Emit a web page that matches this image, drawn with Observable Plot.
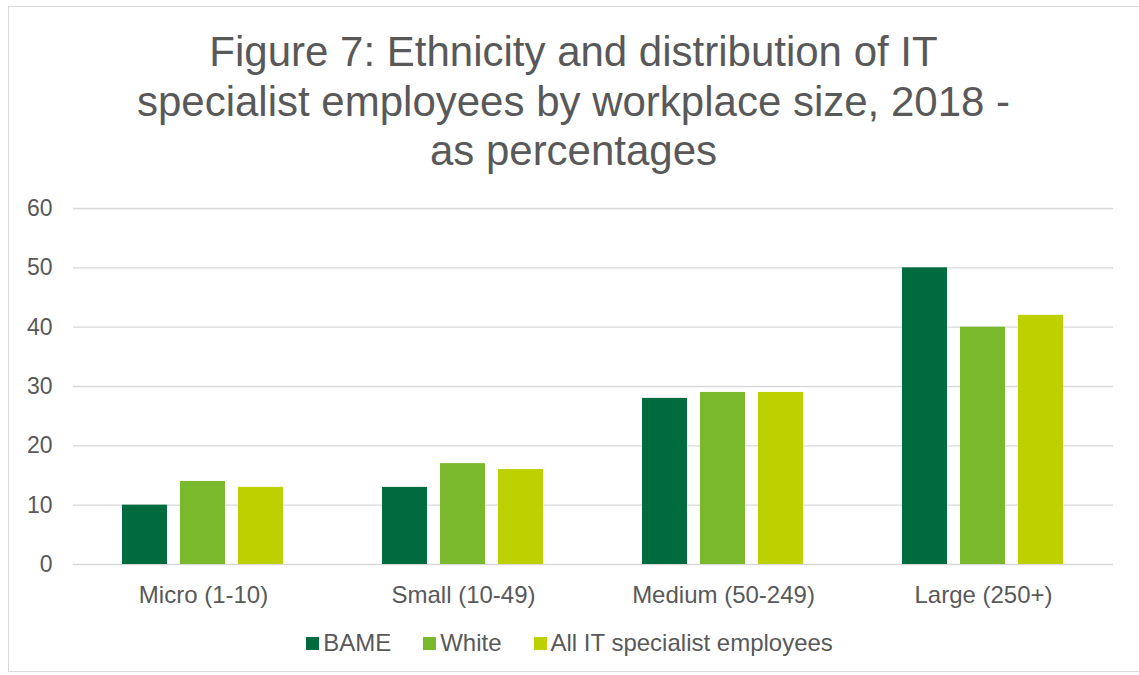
<!DOCTYPE html>
<html>
<head>
<meta charset="utf-8">
<script src="https://cdn.jsdelivr.net/npm/d3@7"></script>
<script src="https://cdn.jsdelivr.net/npm/@observablehq/plot@0.6"></script>
<style>
  html, body { margin: 0; padding: 0; background: #fff; }
  #wrap { position: relative; width: 1139px; height: 675px; overflow: hidden; font-family: "Liberation Sans", Arial, sans-serif; color: #595959; }
  #frame { position: absolute; left: 8px; top: 6px; width: 1140px; height: 666px; border: 1px solid #d9d9d9; box-sizing: border-box; }
  #title { position: absolute; left: 8px; width: 1131px; top: 27px; text-align: center; font-size: 42px; line-height: 49.5px; }
  #chart { position: absolute; left: 0; top: 190px; }
  #legend { position: absolute; left: 0; width: 1139px; top: 629px; display: flex; justify-content: center; font-size: 24px; line-height: 28px; }
  .item { display: flex; align-items: center; margin: 0 16px; }
  .sw { width: 13px; height: 13px; margin-right: 4px; }
</style>
</head>
<body>
<div id="wrap">
  <div id="frame"></div>
  <div id="title"></div>
  <div id="chart"></div>
  <div id="legend"></div>
</div>
<script>
const titleLines = ["Figure 7: Ethnicity and distribution of IT", "specialist employees by workplace size, 2018 -", "as percentages"];
const categories = ["Micro (1-10)", "Small (10-49)", "Medium (50-249)", "Large (250+)"];
const series = ["BAME", "White", "All IT specialist employees"];
const colors = ["#006b3f", "#7ab92b", "#bdd100"];
const bame = [10, 13, 28, 50];
const white = [14, 17, 29, 40];
const allIT = [13, 16, 29, 42];
const yTicks = [0, 10, 20, 30, 40, 50, 60];

const values = [bame, white, allIT];
const data = [];
categories.forEach((c, i) => series.forEach((s, j) => data.push({category: c, series: s, value: values[j][i]})));

document.getElementById("title").innerHTML = titleLines.map(t => `<div>${t}</div>`).join("");

const chart = Plot.plot({
  width: 1139,
  height: 430,
  marginLeft: 73,
  marginRight: 26,
  marginTop: 18,
  marginBottom: 56,
  style: {fontFamily: "'Liberation Sans', Arial, sans-serif", fontSize: "24px", color: "#595959", background: "transparent"},
  fx: {domain: categories, padding: 0, axis: "bottom", label: null, tickSize: 0, tickPadding: 21},
  x: {domain: series, axis: null, paddingInner: 0.224, paddingOuter: 0.853},
  y: {domain: [0, 60], ticks: yTicks, label: null, tickSize: 0, tickPadding: 21},
  color: {domain: series, range: colors},
  marks: [
    Plot.gridY(yTicks, {stroke: "#d9d9d9", strokeOpacity: 1, strokeWidth: 1.3}),
    Plot.axisY(yTicks, {tickSize: 0, tickPadding: 21, label: null, fontSize: 23}),
    Plot.barY(data, {fx: "category", x: "series", y: "value", fill: "series"})
  ]
});
document.getElementById("chart").appendChild(chart);

const legend = document.getElementById("legend");
series.forEach((s, i) => {
  const it = document.createElement("div");
  it.className = "item";
  it.innerHTML = `<span class="sw" style="background:${colors[i]}"></span><span>${s}</span>`;
  legend.appendChild(it);
});
</script>
</body>
</html>
